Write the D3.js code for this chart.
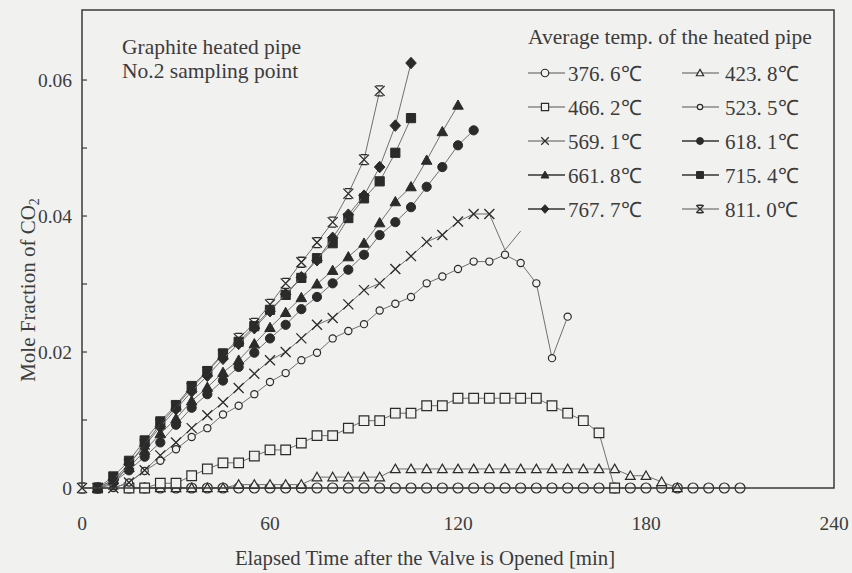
<!DOCTYPE html>
<html><head><meta charset="utf-8">
<script src="https://cdn.jsdelivr.net/npm/d3@7"></script>
<style>
html,body{margin:0;padding:0;background:#f1f1ef;}
svg{display:block;}
text{font-family:"Liberation Serif","Times New Roman",serif;fill:#3c3c3c;}
</style></head><body>
<svg id="chart" width="852" height="573"></svg>
<script>
// Axis ticks
const xTickValues = [0, 60, 120, 180, 240];
const yLabelValues = [0, 0.02, 0.04, 0.06];
const yMinorValues = [0.01, 0.02, 0.03, 0.04, 0.05, 0.06];
const sampleStep = 5; // minutes between samples

// Legend labels (average temperature of the heated pipe)
const tempLabels = ["376. 6℃","423. 8℃","466. 2℃","523. 5℃","569. 1℃","618. 1℃","661. 8℃","715. 4℃","767. 7℃","811. 0℃"];
const markerTypes = ["circle","triangle","square","smallCircle","cross","dot","triUp","block","diamond","star"];

// CO2 mole fraction per series; each starts at the given minute and is sampled every 5 min
const start376 = 15;
const co2_376 = [0,0,0,0,0,0,0,0,0,0, 0,0,0,0,0,0,0,0,0,0, 0,0,0,0,0,0,0,0,0,0, 0,0,0,0,0,0,0,0,0,0];
const start423 = 20;
const co2_423 = [0,0,0,0,0,0, 0.0005,0.0005,0.0005,0.0005,0.0005, 0.0016,0.0016,0.0016,0.0016,0.0016,
  0.0028,0.0028,0.0028,0.0028,0.0028,0.0028,0.0028,0.0028,0.0028,0.0028,0.0028,0.0028,0.0028,0.0028,0.0028,
  0.0018,0.0018,0.0009,0];
const start466 = 15;
const co2_466 = [0,0,0.0007,0.0007,0.0018,0.0028,0.0037,0.0037,0.0047,0.0056,
  0.0056,0.0066,0.0077,0.0077,0.0088,0.0099,0.0099,0.011,0.011,0.0121,
  0.0121,0.0132,0.0132,0.0132,0.0132,0.0132,0.0132,0.0121,0.011,0.0099,
  0.0081,0];
const start523 = 10;
const co2_523 = [0,0.0008,0.0025,0.004,0.0057,0.0075,0.0088,0.0108,0.0121,0.0138,
  0.0156,0.0169,0.0188,0.0199,0.022,0.0231,0.0241,0.0261,0.0271,0.0281,
  0.0301,0.0311,0.0322,0.0333,0.0333,0.0343,0.0331,0.0301,0.0191,0.0252];
const start569 = 5;
const co2_569 = [0,0,0.0008,0.0026,0.0048,0.0067,0.0088,0.0107,0.0126,0.0147,
  0.0168,0.0188,0.02,0.022,0.024,0.025,0.027,0.0291,0.0301,0.0322,
  0.0341,0.0362,0.0372,0.0392,0.0403,0.0403];
// trace continues past the last marked sample without markers
const tail569 = [0.035, 0.0378];
const start618 = 5;
const co2_618 = [0,0.0008,0.0026,0.0046,0.0067,0.0093,0.0118,0.0138,0.0158,0.0178,
  0.0199,0.022,0.024,0.0263,0.0281,0.0301,0.0321,0.0343,0.0372,0.0391,
  0.0413,0.0443,0.0472,0.0504,0.0526];
const start661 = 5;
const co2_661 = [0,0.0012,0.003,0.0055,0.008,0.0102,0.0128,0.0148,0.017,0.0188,
  0.0212,0.0236,0.0258,0.028,0.03,0.032,0.034,0.036,0.039,0.0421,
  0.0443,0.0482,0.0524,0.0563];
const start715 = 5;
const co2_715 = [0,0.0017,0.004,0.007,0.0098,0.0122,0.015,0.0172,0.0198,0.0215,
  0.0238,0.0262,0.0284,0.0309,0.0338,0.036,0.0397,0.0426,0.0451,0.0493,0.0544];
const start767 = 5;
const co2_767 = [0,0.0012,0.0035,0.0062,0.009,0.0116,0.0142,0.0165,0.019,0.0212,
  0.0235,0.026,0.0285,0.031,0.0335,0.0368,0.0402,0.043,0.0472,0.0533,0.0625];
const start811 = 0;
const co2_811 = [0,0,0.0005,0.0035,0.0064,0.0094,0.012,0.0147,0.0171,0.0196,
  0.022,0.0242,0.027,0.0301,0.0332,0.0361,0.0391,0.0433,0.0483,0.0584];

const seriesStarts = [start376,start423,start466,start523,start569,start618,start661,start715,start767,start811];
const seriesValues = [co2_376,co2_423,co2_466,co2_523,co2_569,co2_618,co2_661,co2_715,co2_767,co2_811];

const svg = d3.select("#chart");
const plot = {left: 82, right: 834, top: 10, bottom: 488};
const x = d3.scaleLinear().domain([0, 240]).range([plot.left, plot.right]);
const y = d3.scaleLinear().domain([0, 0.0703]).range([plot.bottom, plot.top]);

const ink = "#2b2b2b";
const paper = "#f1f1ef";

// marker shapes, s = half size
function markerPath(type, s) {
  switch (type) {
    case "circle": case "smallCircle": case "dot":
      return `M${s},0A${s},${s} 0 1,1 ${-s},0A${s},${s} 0 1,1 ${s},0Z`;
    case "square": case "block":
      return `M${-s},${-s}H${s}V${s}H${-s}Z`;
    case "triangle": case "triUp":
      return `M0,${-s*1.05}L${s*1.05},${s*0.8}H${-s*1.05}Z`;
    case "diamond":
      return `M0,${-s*1.2}L${s*1.1},0L0,${s*1.2}L${-s*1.1},0Z`;
    case "cross":
      return `M${-s},${-s}L${s},${s}M${s},${-s}L${-s},${s}`;
    case "star":
      return `M${-s},${-s}L${s},${s}M${s},${-s}L${-s},${s}M${-s*0.7},${-s}H${s*0.7}M${-s*0.7},${s}H${s*0.7}`;
  }
}
const markerSize = {circle:5, triangle:4.6, square:4.8, smallCircle:3.6, cross:5, dot:4.6, triUp:5, block:4.6, diamond:4.8, star:5};
const filled = {dot:true, triUp:true, block:true, diamond:true};
const strokeOnly = {cross:true, star:true};

function drawMarker(g, type, cx, cy, scale) {
  const s = markerSize[type] * scale;
  const p = g.append("path").attr("d", markerPath(type, s)).attr("transform", `translate(${cx},${cy})`);
  if (strokeOnly[type]) p.attr("fill", "none").attr("stroke", ink).attr("stroke-width", 1.3);
  else if (filled[type]) p.attr("fill", ink).attr("stroke", ink).attr("stroke-width", 1);
  else p.attr("fill", paper).attr("stroke", ink).attr("stroke-width", 1.2);
}

const line = d3.line().x(d => x(d.t)).y(d => y(d.v));

// series, coolest first so hotter runs sit on top
seriesValues.forEach((vals, i) => {
  const pts = vals.map((v, k) => ({t: seriesStarts[i] + k * sampleStep, v}));
  const g = svg.append("g");
  let linePts = pts;
  if (i === 4) {
    const last = pts[pts.length - 1].t;
    linePts = pts.concat(tail569.map((v, k) => ({t: last + (k + 1) * sampleStep, v})));
  }
  g.append("path").datum(linePts).attr("d", line)
    .attr("fill", "none").attr("stroke", "#707070").attr("stroke-width", 1);
  pts.forEach(d => drawMarker(g, markerTypes[i], x(d.t), y(d.v), 1));
});

// frame
svg.append("rect").attr("x", plot.left).attr("y", plot.top)
  .attr("width", plot.right - plot.left).attr("height", plot.bottom - plot.top)
  .attr("fill", "none").attr("stroke", "#3a3a3a").attr("stroke-width", 1.5);

// y ticks (inward) and labels
svg.append("g").selectAll("line").data(yMinorValues).join("line")
  .attr("x1", plot.left).attr("x2", plot.left + 5)
  .attr("y1", d => y(d)).attr("y2", d => y(d))
  .attr("stroke", "#3a3a3a").attr("stroke-width", 1.2);
svg.append("g").selectAll("text").data(yLabelValues).join("text")
  .attr("x", 72).attr("y", d => y(d)).attr("dy", "0.35em")
  .attr("text-anchor", "end").attr("font-size", 19.5)
  .text(d => d === 0 ? "0" : d3.format(".2f")(d));

// x labels
svg.append("g").selectAll("text").data(xTickValues).join("text")
  .attr("x", d => x(d)).attr("y", 530)
  .attr("text-anchor", "middle").attr("font-size", 19.5)
  .text(d => d);

// axis titles
svg.append("text").attr("x", 425).attr("y", 565).attr("text-anchor", "middle")
  .attr("font-size", 20.8).text("Elapsed Time after the Valve is Opened [min]");
const yt = svg.append("text").attr("transform", "translate(35,290) rotate(-90)")
  .attr("text-anchor", "middle").attr("font-size", 21);
yt.append("tspan").text("Mole Fraction of CO");
yt.append("tspan").attr("font-size", 14).attr("dy", 4).text("2");

// annotation
svg.append("text").attr("x", 122).attr("y", 54).attr("font-size", 21.5).text("Graphite heated pipe");
svg.append("text").attr("x", 122).attr("y", 78).attr("font-size", 21.5).text("No.2 sampling point");

// legend
svg.append("text").attr("x", 528).attr("y", 44).attr("font-size", 21.5).text("Average temp. of the heated pipe");
const legCols = [{lx: 528, mx: 545, tx: 568}, {lx: 682, mx: 700, tx: 725}];
tempLabels.forEach((lab, i) => {
  const col = legCols[i % 2];
  const row = Math.floor(i / 2);
  const cy = 73 + row * 34;
  const g = svg.append("g");
  g.append("line").attr("x1", col.lx).attr("x2", col.lx + 37).attr("y1", cy).attr("y2", cy)
    .attr("stroke", filled[markerTypes[i]] ? "#333" : "#555").attr("stroke-width", filled[markerTypes[i]] ? 1.6 : 1.1);
  drawMarker(g, markerTypes[i], col.mx, cy, 0.75);
  g.append("text").attr("x", col.tx).attr("y", cy).attr("dy", "0.36em").attr("font-size", 21).text(lab);
});
</script>
</body></html>
